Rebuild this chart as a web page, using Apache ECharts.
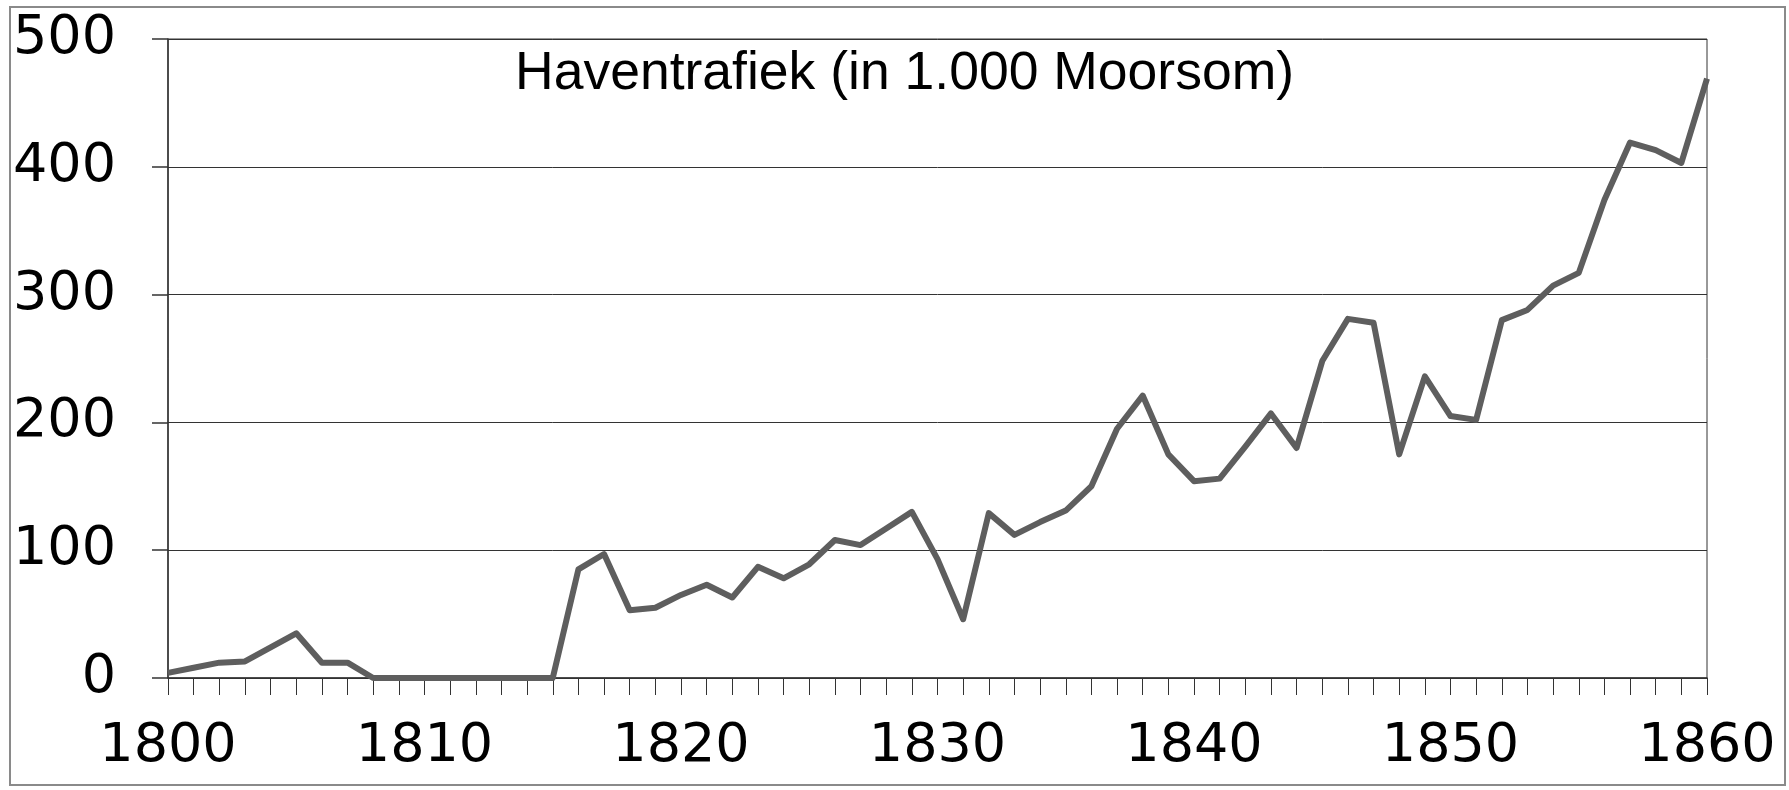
<!DOCTYPE html>
<html>
<head>
<meta charset="utf-8">
<script src="https://cdn.jsdelivr.net/npm/echarts@6/dist/echarts.min.js"></script>
<style>
  html, body { margin: 0; padding: 0; background: #ffffff; }
  #chart { width: 1789px; height: 790px; }
</style>
</head>
<body>
<div id="chart"></div>
<script>
const titleText = 'Haventrafiek (in 1.000 Moorsom)';
const years = [
  1800, 1801, 1802, 1803, 1804, 1805, 1806, 1807, 1808, 1809,
  1810, 1811, 1812, 1813, 1814, 1815, 1816, 1817, 1818, 1819,
  1820, 1821, 1822, 1823, 1824, 1825, 1826, 1827, 1828, 1829,
  1830, 1831, 1832, 1833, 1834, 1835, 1836, 1837, 1838, 1839,
  1840, 1841, 1842, 1843, 1844, 1845, 1846, 1847, 1848, 1849,
  1850, 1851, 1852, 1853, 1854, 1855, 1856, 1857, 1858, 1859,
  1860
];
const traffic = [
  4, 8, 12, 13, 24, 35, 12, 12, 0, 0,
  0, 0, 0, 0, 0, 0, 85, 97, 53, 55,
  65, 73, 63, 87, 78, 89, 108, 104, 117, 130,
  93, 46, 129, 112, 122, 131, 150, 195, 221, 175,
  154, 156, 181, 207, 180, 248, 281, 278, 175, 236,
  205, 202, 280, 288, 307, 317, 374, 419, 413, 403,
  469
];
const xTicks = [1800, 1810, 1820, 1830, 1840, 1850, 1860];
const yTicks = [0, 100, 200, 300, 400, 500];

const seriesData = years.map((y, i) => [y, traffic[i]]);

const chart = echarts.init(document.getElementById('chart'), null, { renderer: 'canvas' });
chart.setOption({
  backgroundColor: '#ffffff',
  animation: false,
  title: {
    text: titleText,
    left: 515,
    top: 47,
    padding: 0,
    textStyle: {
      fontFamily: 'Liberation Sans',
      fontSize: 53.5,
      fontWeight: 'normal',
      color: '#000000'
    }
  },
  graphic: [{
    type: 'rect',
    shape: { x: 10, y: 7, width: 1775, height: 778 },
    style: { fill: 'none', stroke: '#8a8a8a', lineWidth: 2 },
    silent: true,
    z: -1
  }],
  grid: {
    left: 168, right: 82, top: 39, bottom: 112,
    show: true,
    borderColor: '#333333',
    borderWidth: 1,
    backgroundColor: 'transparent'
  },
  xAxis: {
    type: 'value',
    min: xTicks[0],
    max: xTicks[xTicks.length - 1],
    interval: 10,
    axisLine: { show: true, lineStyle: { color: '#333333', width: 1.5 } },
    axisTick: { show: true, inside: false, length: 17, lineStyle: { color: '#333333', width: 1 } },
    minorTick: { show: true, splitNumber: 10, length: 17, lineStyle: { color: '#333333', width: 1 } },
    splitLine: { show: false },
    axisLabel: {
      margin: 42,
      fontFamily: 'DejaVu Sans',
      fontSize: 54,
      color: '#000000',
      formatter: v => String(v)
    }
  },
  yAxis: {
    type: 'value',
    min: yTicks[0],
    max: yTicks[yTicks.length - 1],
    interval: 100,
    axisLine: { show: true, lineStyle: { color: '#333333', width: 1.5 } },
    axisTick: { show: true, inside: false, length: 16, lineStyle: { color: '#333333', width: 1.5 } },
    splitLine: { show: true, lineStyle: { color: '#333333', width: 1 } },
    axisLabel: {
      margin: 52,
      fontFamily: 'DejaVu Sans',
      fontSize: 54,
      color: '#000000'
    }
  },
  series: [{
    type: 'line',
    data: seriesData,
    showSymbol: false,
    symbol: 'none',
    smooth: false,
    lineStyle: { color: '#5e5e5e', width: 6, join: 'round' },
    z: 3
  }]
});
</script>
</body>
</html>
